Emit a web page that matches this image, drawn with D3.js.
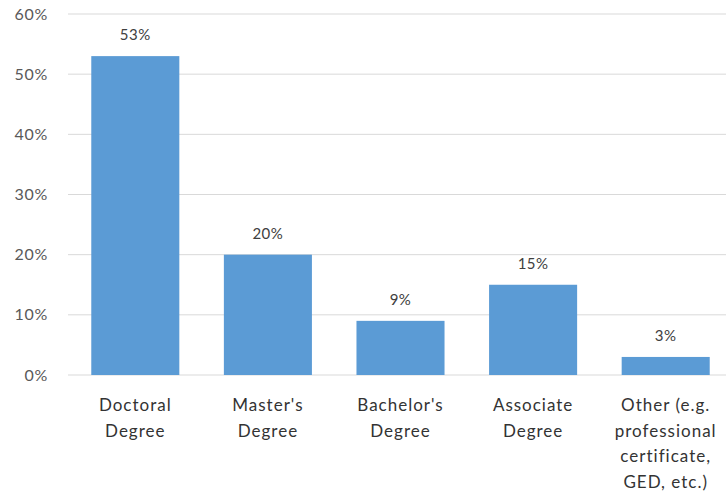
<!DOCTYPE html>
<html><head><meta charset="utf-8">
<script src="https://cdn.jsdelivr.net/npm/d3@7"></script>
<style>body{margin:0;background:#fff}svg{display:block}text{font-family:Lato,"Open Sans",sans-serif}</style>
</head><body>
<svg id="c" width="726" height="497"></svg>
<script>
const categories = [["Doctoral","Degree"],["Master's","Degree"],["Bachelor's","Degree"],["Associate","Degree"],["Other (e.g.","professional","certificate,","GED, etc.)"]];
const values = [53, 20, 9, 15, 3];
const yTicks = [0, 10, 20, 30, 40, 50, 60];

(function () {
const svg = d3.select("#c");
const pLeft = 69, pRight = 732, pTop = 14, pBottom = 375;
const x = d3.scaleBand().domain(d3.range(values.length)).range([pLeft, pRight]).paddingInner(0.336).paddingOuter(0.168);
const y = d3.scaleLinear().domain([0, 60]).range([pBottom, pTop]);

svg.append("g").selectAll("line").data(yTicks).join("line")
  .attr("x1", 68).attr("x2", 726).attr("y1", d => y(d)).attr("y2", d => y(d))
  .attr("stroke", "#d9d9d9").attr("stroke-width", 1);

svg.append("g").selectAll("text").data(yTicks).join("text")
  .attr("x", 48).attr("y", d => y(d)).attr("dy", "0.35em").attr("text-anchor", "end")
  .attr("font-size", 16).attr("letter-spacing", 0.7).attr("fill", "#595959").text(d => d + "%");

svg.append("g").selectAll("rect").data(values).join("rect")
  .attr("x", (d, i) => x(i)).attr("width", x.bandwidth())
  .attr("y", d => y(d)).attr("height", d => y(0) - y(d)).attr("fill", "#5B9BD5");

svg.append("g").selectAll("text").data(values).join("text")
  .attr("x", (d, i) => x(i) + x.bandwidth() / 2).attr("y", d => y(d) - 21).attr("dy", "0.35em")
  .attr("text-anchor", "middle").attr("font-size", 15).attr("letter-spacing", 0.5).attr("fill", "#404040").text(d => d + "%");

const cat = svg.append("g").selectAll("text").data(categories).join("text")
  .attr("x", (d, i) => x(i) + x.bandwidth() / 2).attr("y", 405).attr("text-anchor", "middle")
  .attr("font-size", 17).attr("letter-spacing", 1).attr("fill", "#333333");
cat.each(function(lines) {
  const t = d3.select(this), cx = t.attr("x");
  lines.forEach((l, j) => t.append("tspan").attr("x", cx).attr("y", 405 + j * 25.7).attr("dy", "0.35em").text(l));
});
})();
</script>
</body></html>
